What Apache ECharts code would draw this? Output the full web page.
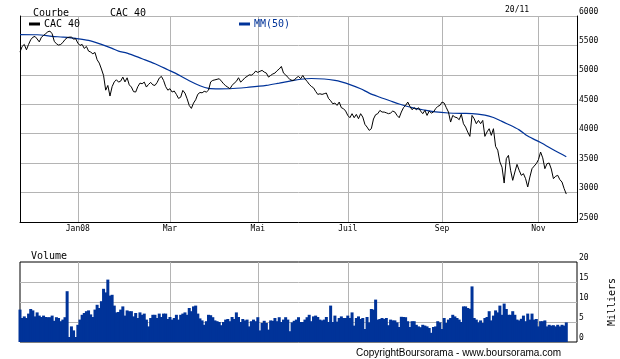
<!DOCTYPE html>
<html><head><meta charset="utf-8">
<script src="https://cdn.jsdelivr.net/npm/echarts@6/dist/echarts.min.js"></script>
<style>html,body{margin:0;padding:0;background:#fff}#c{width:620px;height:359px}</style>
</head><body><div id="c"></div>
<script>
// ---- data ----
const holidays = ['2007-12-25','2007-12-26','2008-01-01','2008-03-21','2008-03-24','2008-05-01'];
const firstDay = '2007-11-21';
const lastDay = '2008-11-20';
const monthTickDates = ['2008-01-02','2008-03-03','2008-05-02','2008-07-01','2008-09-01','2008-11-03'];
const monthTickLabels = ['Jan08','Mar','Mai','Juil','Sep','Nov'];
const priceTicks = {min:2500, max:6000, step:500};
const volTicks = {min:0, max:20, step:5};

const cac40 = [
5387,5483,5517,5426,5517,5596,5640,5653,5610,5560,
5640,5670,5700,5732,5743,5698,5570,5528,5506,5517,
5550,5600,5630,5641,5641,5608,5613,5540,5500,5517,
5449,5483,5404,5387,5358,5381,5257,5200,5100,4990,
4740,4820,4640,4800,4880,4917,4877,4894,4962,4880,
4950,4830,4793,4715,4708,4800,4860,4849,4877,4793,
4838,4872,4830,4820,4870,4945,4974,4906,4800,4740,
4764,4708,4725,4668,4600,4620,4736,4690,4594,4480,
4430,4520,4577,4670,4700,4695,4720,4708,4740,4880,
4906,4915,4925,4934,4894,4849,4815,4790,4764,4821,
4860,4890,4951,4877,4910,4951,4974,5000,4995,5020,
5064,5042,5060,5076,5047,5030,4962,4990,5015,5030,
5070,5100,5143,5030,5000,4960,4920,4906,4910,4951,
4974,4934,4990,4930,4890,4840,4804,4780,4720,4668,
4679,4668,4680,4691,4600,4560,4509,4521,4481,4538,
4442,4425,4385,4311,4272,4340,4272,4328,4255,4340,
4283,4159,4113,4057,4085,4250,4323,4340,4396,4368,
4368,4355,4340,4351,4385,4368,4311,4272,4368,4442,
4481,4538,4464,4408,4442,4408,4442,4385,4340,4396,
4311,4385,4351,4368,4425,4464,4481,4538,4521,4442,
4368,4198,4311,4283,4272,4238,4330,4170,4113,4028,
3955,4311,4255,4170,4226,4170,4226,3955,4030,4085,
3972,4085,3785,3720,3520,3430,3162,3576,3632,3380,
3208,3349,3479,3378,3293,3321,3236,3095,3264,3406,
3450,3491,3559,3689,3590,3406,3491,3502,3400,3236,
3276,3293,3219,3179,3066,2975
];

// MM(50): [trading-day index, value]
const mm50 = [
[0,5685],[8,5681],[15,5655],[20,5641],[26,5619],[32,5585],[38,5517],[43,5450],[46,5404],[50,5370],
[57,5274],[63,5189],[69,5087],[74,5000],[79,4900],[84,4815],[88,4770],[93,4762],[98,4764],[107,4790],
[115,4821],[121,4860],[126,4894],[131,4925],[136,4938],[142,4930],[147,4905],[150,4880],[154,4835],[159,4765],
[163,4690],[168,4620],[173,4555],[177,4505],[183,4442],[189,4400],[194,4370],[200,4352],[206,4345],[211,4343],
[217,4315],[221,4275],[224,4225],[227,4175],[233,4065],[237,3960],[243,3850],[250,3706],[255,3610]
];

const volume = [
8.1,6.0,6.4,6.0,7.1,8.25,7.9,6.4,7.4,6.6,
6.25,6.6,6.25,6.2,6.2,6.6,5.3,6.2,6.0,5.2,
5.6,6.2,12.7,1.25,3.9,2.9,1.25,4.3,5.6,6.8,
7.25,7.7,7.9,6.9,6.25,8.1,9.3,8.5,10.2,13.3,
12.4,15.6,11.6,11.8,9.1,7.4,7.5,8.1,8.9,6.6,
7.9,7.7,7.7,6.4,7.25,6.0,7.4,6.8,7.1,5.6,
3.9,6.0,6.8,6.8,6.0,7.1,6.25,7.1,7.1,5.75,
6.25,5.6,6.0,6.8,5.6,6.8,7.1,7.4,6.8,8.5,
7.7,8.9,9.1,7.1,5.9,5.4,4.3,5.2,6.8,6.7,
6.2,5.4,5.2,5.0,4.2,5.0,5.6,5.75,5.2,6.25,
5.75,7.4,6.25,5.0,5.75,5.4,5.6,3.9,5.2,5.6,
5.2,6.2,2.9,4.75,5.3,4.75,3.1,5.4,5.3,6.0,
5.2,6.2,5.0,5.6,6.2,5.6,2.7,4.9,5.3,5.6,
6.2,5.0,5.0,5.6,6.2,6.8,5.2,6.4,6.6,6.25,
5.6,5.4,5.6,6.25,5.0,9.1,5.0,6.6,5.1,6.0,
6.4,6.0,6.0,6.6,6.0,7.4,4.1,6.0,6.4,5.75,
6.0,3.25,6.25,4.9,8.25,8.1,10.6,5.6,5.75,6.0,
5.75,6.0,4.2,5.6,5.4,5.4,4.9,3.75,6.3,6.25,
6.2,5.2,3.75,5.2,5.2,4.3,3.9,3.7,4.3,4.1,
3.9,3.5,2.3,3.75,3.9,5.2,4.9,3.25,6.0,4.75,
5.6,6.0,6.8,6.4,6.0,5.6,5.0,8.9,8.9,8.5,
8.3,13.9,6.0,5.6,4.9,5.4,4.75,6.0,6.25,7.7,
5.4,6.6,7.9,7.4,9.1,6.8,9.6,8.25,6.8,6.8,
7.7,6.8,5.6,5.4,5.8,6.6,5.2,7.1,5.6,7.1,
5.6,5.75,3.9,5.2,5.2,5.4,3.9,4.3,4.1,4.2,
3.9,4.3,3.9,4.3,4.1,4.9
];

// ---- trading calendar (Euronext Paris) ----
function tradingDays(from, to) {
  const out = [];
  const p = s => { const a = s.split('-').map(Number); return Date.UTC(a[0], a[1]-1, a[2]); };
  for (let t = p(from); t <= p(to); t += 86400000) {
    const d = new Date(t), wd = d.getUTCDay(), s = d.toISOString().slice(0,10);
    if (wd !== 0 && wd !== 6 && holidays.indexOf(s) < 0) out.push(s);
  }
  return out;
}
const dates = tradingDays(firstDay, lastDay);
const cats = dates.concat(['','','','','']); // axis runs a little past the last session
const labelAt = {};
monthTickDates.forEach((d, k) => { labelAt[dates.indexOf(d)] = monthTickLabels[k]; });
const isTick = i => labelAt.hasOwnProperty(i);

const grey = '#b4b4b4';
const blue = '#003399';
const mono = '"DejaVu Sans Mono", monospace';
const tickLabel = {fontFamily: mono, fontSize: 8, color: '#000', margin: 2, verticalAlign: 'bottom', lineHeight: 9,
                   formatter: v => String(v)};

const chart = echarts.init(document.getElementById('c'), null, {renderer: 'canvas'});
chart.setOption({
  animation: false,
  backgroundColor: '#fff',
  grid: [
    {left: 20, top: 16, width: 557, height: 206, show: false},
    {left: 20, top: 262, width: 557, height: 80, show: true, borderColor: '#000', borderWidth: 1, backgroundColor: 'transparent'}
  ],
  legend: [
    {data: ['CAC 40'], left: 29, top: 19, icon: 'rect', itemWidth: 11, itemHeight: 3, itemGap: 0, padding: 0,
     selectedMode: false, textStyle: {fontFamily: mono, fontSize: 10, color: '#000', lineHeight: 10, padding: [0,0,0,-1]}},
    {data: ['MM(50)'], left: 239, top: 19, icon: 'rect', itemWidth: 11, itemHeight: 3, itemGap: 0, padding: 0,
     selectedMode: false, textStyle: {fontFamily: mono, fontSize: 10, color: blue, lineHeight: 10, padding: [0,0,0,-1]}}
  ],
  xAxis: [
    {gridIndex: 0, type: 'category', data: cats, boundaryGap: false,
     axisLine: {onZero: false, lineStyle: {color: '#000', width: 1}}, axisTick: {show: false},
     axisLabel: {interval: (i) => isTick(i), formatter: (v, i) => labelAt[i] || '', fontFamily: mono, fontSize: 8, color: '#000', margin: 3},
     splitLine: {show: true, interval: (i) => isTick(i), lineStyle: {color: grey, width: 1}}},
    {gridIndex: 1, type: 'category', data: cats, boundaryGap: false,
     axisLine: {show: false}, axisTick: {show: false}, axisLabel: {show: false},
     splitLine: {show: true, interval: (i) => isTick(i), lineStyle: {color: grey, width: 1}}}
  ],
  yAxis: [
    {gridIndex: 0, type: 'value', position: 'right', min: priceTicks.min, max: priceTicks.max, interval: priceTicks.step,
     axisLine: {show: true, lineStyle: {color: '#000', width: 1}}, axisTick: {show: false}, axisLabel: tickLabel,
     splitLine: {show: true, showMinLine: false, lineStyle: {color: grey, width: 1}}},
    {gridIndex: 0, type: 'value', position: 'left', min: priceTicks.min, max: priceTicks.max,
     axisLine: {show: true, lineStyle: {color: '#000', width: 1}}, axisTick: {show: false}, axisLabel: {show: false}, splitLine: {show: false}},
    {gridIndex: 1, type: 'value', position: 'right', min: volTicks.min, max: volTicks.max, interval: volTicks.step,
     axisLine: {show: false}, axisTick: {show: false}, axisLabel: tickLabel,
     splitLine: {show: true, showMinLine: false, showMaxLine: false, lineStyle: {color: grey, width: 1}}}
  ],
  series: [
    {name: 'CAC 40', type: 'line', xAxisIndex: 0, yAxisIndex: 0, data: cac40, color: '#000',
     showSymbol: false, symbol: 'none', lineStyle: {color: '#000', width: 1}, z: 4},
    {name: 'MM(50)', type: 'line', xAxisIndex: 0, yAxisIndex: 0, data: mm50, color: blue,
     showSymbol: false, symbol: 'none', smooth: 0.3, lineStyle: {color: blue, width: 1.2}, z: 3},
    {name: 'Volume', type: 'bar', xAxisIndex: 1, yAxisIndex: 2, data: volume, barWidth: 3,
     itemStyle: {color: blue}, z: 2}
  ],
  graphic: [
    {type: 'text', x: 33, y: 13, style: {text: 'Courbe', font: '10px ' + mono, fill: '#000', textVerticalAlign: 'middle'}},
    {type: 'text', x: 110, y: 13, style: {text: 'CAC 40', font: '10px ' + mono, fill: '#000', textVerticalAlign: 'middle'}},
    {type: 'text', x: 505, y: 10, style: {text: dates[dates.length-1].slice(8,10) + '/' + dates[dates.length-1].slice(5,7), font: '8px ' + mono, fill: '#000', textVerticalAlign: 'middle'}},
    {type: 'text', x: 31, y: 256.5, style: {text: 'Volume', font: '10px ' + mono, fill: '#000', textVerticalAlign: 'middle'}},
    {type: 'text', x: 612, y: 302, rotation: Math.PI / 2, style: {text: 'Milliers', font: '10px ' + mono, fill: '#000', textAlign: 'center', textVerticalAlign: 'middle'}},
    {type: 'text', x: 356, y: 353, style: {text: 'CopyrightBoursorama - www.boursorama.com', font: '10px "Liberation Sans", Arial, sans-serif', fill: '#000', textVerticalAlign: 'middle'}}
  ]
});
</script>
</body></html>
